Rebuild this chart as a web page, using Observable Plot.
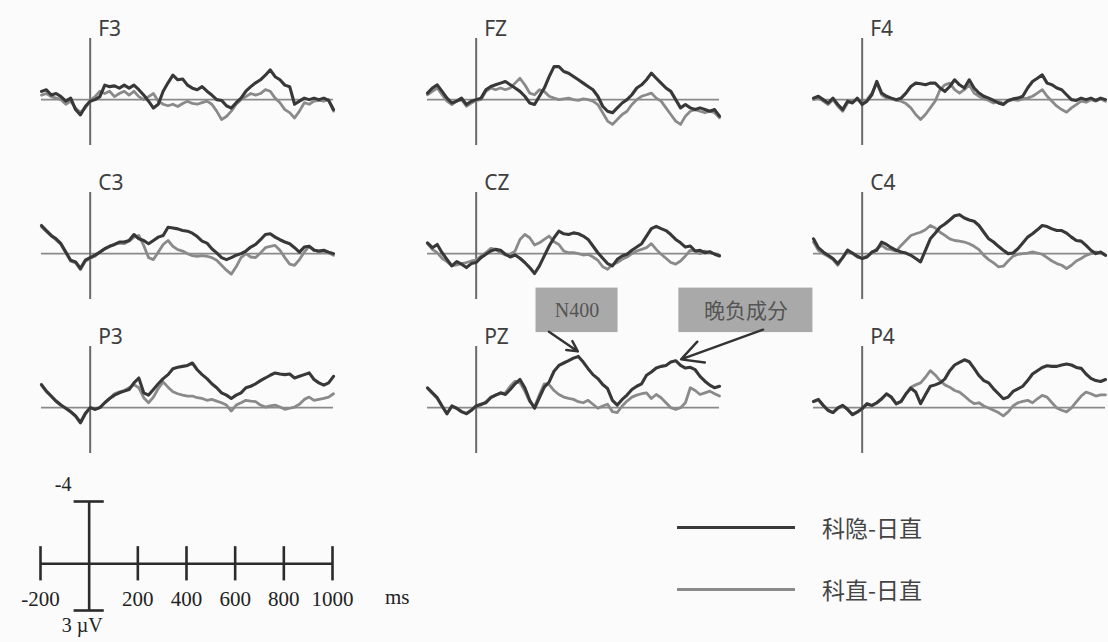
<!DOCTYPE html>
<html><head><meta charset="utf-8">
<script src="https://cdn.jsdelivr.net/npm/d3@7"></script>
<script src="https://cdn.jsdelivr.net/npm/@observablehq/plot@0.6"></script>
<style>
html,body{margin:0;padding:0;background:#fbfbfb;}
#wrap{position:relative;width:1108px;height:642px;overflow:hidden;background:#fbfbfb;}
#main{position:absolute;left:0;top:0;}
#scale{position:absolute;left:0;top:470px;}
.legline{position:absolute;left:677px;width:118px;height:3px;}
.legtxt{position:absolute;left:822px;font:23px "Noto Sans CJK SC",sans-serif;color:#444;line-height:26px;}
</style></head>
<body><div id="wrap"><div id="main"></div><div id="scale"></div>
<div class="legline" style="top:526px;background:#3a3a3a"></div>
<div class="legtxt" id="leg1" style="top:514px"></div>
<div class="legline" style="top:588px;background:#8a8a8a"></div>
<div class="legtxt" id="leg2" style="top:576px"></div>
</div>
<script>
// ---- data ----
const times = d3.range(-200, 1001, 20); // ms sample grid
const electrodes = ["F3","FZ","F4","C3","CZ","C4","P3","PZ","P4"];
const seriesNames = ["科隐-日直", "科直-日直"];

const dark_F3 = [-0.54,-0.65,-0.3,-0.4,-0.2,0.1,-0.1,0.65,1.0,0.45,0.1, 0,-0.2,-0.95,-0.85,-0.9,-0.75,-0.95,-0.75,-0.95,-0.65, -0.3,0.1,0.55,0.3,-0.55,-1.1,-1.6,-1.3,-1.35,-0.95, -0.75,-0.65,-0.85,-0.55,-0.3,0,0.05,0.4,0.55,0.2, -0.1,-0.55,-0.85,-1.1,-1.3,-1.6,-1.95,-1.5,-1.3,-0.95, -0.85,0.3,0.1,-0.1,0,-0.1,0,-0.1,0.05,0.65];
const light_F3 = [-0.3,-0.4,-0.2,-0.1,0,0.3,0.1,0.55,0.85,0.55,0.05, -0.2,-0.55,-0.4,-0.55,-0.2,-0.4,-0.55,-0.3,-0.55,-0.2, 0,-0.2,-0.4,0.1,0.3,0.4,0.3,0.45,0.25,0.1, 0.25,0.3,0.2,0.1,0.3,0.75,1.3,1.1,0.75,0.3, 0,-0.2,-0.4,-0.3,-0.4,-0.65,-0.55,-0.1,0.2,0.65, 0.85,1.2,0.75,0.2,0.3,0.1,0.05,0.1,0,0.75];

const dark_FZ = [-0.43,-0.76,-0.97,-0.54,-0.1,0.22,0.1,-0.1,0.32,0.1,0, -0.1,-0.65,-0.86,-0.97,-1.08,-1.19,-0.97,-0.76,-0.54,-0.22, 0.22,0.32,-0.22,-0.76,-1.51,-2.16,-2.16,-1.84,-1.73,-1.51, -1.3,-1.08,-0.86,-0.65,-0.22,0.43,0.76,0.86,0.54,0.22, 0,-0.32,-0.76,-0.97,-1.3,-1.73,-1.4,-1.08,-0.76,-0.54, 0,0.54,0.32,0.54,0.65,0.54,0.65,0.76,0.65,1.08];
const light_FZ = [-0.32,-0.54,-0.76,-0.32,0.1,0.32,0.1,0,0.43,0.22,0.05, 0,-0.54,-0.76,-0.65,-0.76,-0.65,-0.76,-1.08,-1.4,-0.97, -0.43,-0.32,-0.65,-0.54,-0.22,-0.1,0,-0.05,-0.1,0, 0.05,-0.05,0,0.1,0.32,0.86,1.4,1.62,1.3,0.97, 0.76,0.32,0,-0.22,-0.32,-0.43,-0.1,0.1,0.54,0.97, 1.4,1.62,1.08,0.76,0.65,0.76,0.86,0.76,0.86,1.19];

const dark_F4 = [-0.1,-0.22,0,0.22,-0.1,0.32,0.65,0.1,0.22,-0.1,0.32, 0.1,-0.32,-1.19,-0.43,-0.22,-0.1,0,-0.1,-0.43,-0.86, -1.08,-1.04,-0.97,-1.08,-1.08,-0.76,-0.54,-0.86,-1.3,-0.97, -0.76,-1.3,-0.76,-0.43,-0.22,-0.1,0.05,0.22,0.32,0.05, -0.05,-0.1,-0.22,-0.76,-1.19,-1.4,-1.62,-1.08,-0.97,-0.76, -0.65,-0.32,0,0.05,-0.1,0,-0.1,0.05,-0.1,0];
const light_F4 = [0,-0.1,0.1,0.32,0,0.43,0.76,0.22,0.1,0,0.22, 0,-0.43,-1.08,-0.32,-0.1,-0.05,0.05,0.1,0.26,0.54, 0.97,1.3,0.97,0.54,0.1,-0.65,-0.97,-1.08,-0.65,-0.43, -0.65,-0.97,-0.43,-0.22,-0.05,0.05,0.22,0.1,0.26,0.1, 0,0.05,-0.05,-0.1,-0.22,-0.43,-0.65,-0.22,0.1,0.43, 0.65,0.82,0.54,0.32,0.1,0.17,0,0.1,-0.05,0.1];

const dark_C3 = [-1.84,-1.51,-1.19,-0.97,-0.65,-0.1,0.43,0.54,0.97,0.43,0.26, 0.1,-0.1,-0.32,-0.48,-0.6,-0.76,-0.76,-0.86,-1.25,-0.97, -0.86,-0.65,-0.86,-1.08,-1.19,-1.73,-1.68,-1.62,-1.51,-1.47, -1.34,-1.12,-0.82,-0.69,-0.32,-0.05,0.26,0.39,0.26,0.1, 0,-0.17,-0.43,-0.6,-0.91,-1.25,-1.3,-1.08,-0.91,-0.76, -0.65,-0.39,-0.1,-0.43,-0.48,-0.22,-0.17,-0.22,-0.1,0];
const light_C3 = [-1.75,-1.45,-1.15,-0.9,-0.6,-0.05,0.5,0.6,1.05,0.5,0.3, 0.17,-0.1,-0.32,-0.48,-0.6,-0.69,-0.65,-0.82,-1.08,-1.19, -0.54,0.26,0.39,-0.1,-0.6,-0.86,-0.48,-0.26,-0.17,0, 0.13,0.17,0.13,0.17,0.26,0.43,0.76,1.08,1.34,0.86, 0.26,0,0.22,0.26,-0.05,-0.39,-0.48,-0.54,-0.22,0.26, 0.69,0.76,0.39,-0.1,-0.48,-0.26,-0.1,-0.17,-0.05,0.1];

const dark_CZ = [-0.71,-0.39,-0.6,-0.06,0.37,0.8,0.52,0.69,0.91,0.65,0.58, 0.26,0.04,-0.17,-0.28,-0.22,0.04,0.22,0.09,0.3,0.58, 0.91,1.3,0.8,0.15,-0.5,-1.04,-1.47,-1.3,-1.25,-1.36, -1.3,-1.15,-0.93,-0.5,-0.06,0.3,0.65,0.8,0.37,0.15, 0.04,-0.22,-0.43,-0.65,-1.15,-1.64,-1.79,-1.64,-1.51,-1.25, -0.93,-0.71,-0.43,-0.5,-0.17,-0.22,-0.06,-0.13,0.04,0.15];
const light_CZ = [-0.65,-0.28,-0.06,0.3,0.52,0.8,0.73,0.65,0.58,0.48,0.43, 0.15,-0.06,-0.35,-0.28,-0.06,0.09,0.04,-0.17,-0.93,-1.25, -1.04,-0.56,-0.71,-0.93,-1.15,-0.78,-0.6,-0.17,-0.06,-0.06, 0,0.09,0.04,0.22,0.43,0.86,1.02,0.73,0.58,0.37, 0.22,0,-0.17,-0.28,-0.39,-0.65,-0.28,0.04,0.3,0.58, 0.69,0.48,0.15,-0.22,-0.17,0,-0.17,-0.06,0,0.09];

const dark_C4 = [-0.97,-0.39,-0.11,0.11,0.32,0.65,0.26,-0.22,-0.04,0.17,0.32, 0.22,-0.11,-0.22,-0.76,-0.6,-0.39,-0.22,-0.11,-0.04,0.11, 0.32,0.54,-0.22,-0.97,-1.34,-1.73,-1.94,-2.2,-2.48,-2.55, -2.33,-2.2,-2.12,-1.84,-1.4,-0.97,-0.76,-0.48,-0.22,0, -0.04,-0.32,-0.69,-1.08,-1.3,-1.56,-1.84,-1.77,-1.62,-1.51, -1.51,-1.34,-1.08,-0.86,-0.82,-0.54,-0.22,0,-0.11,0.11];
const light_C4 = [-0.76,-0.22,0,0.17,0.39,0.76,0.26,-0.26,0,0.22,0.26, 0.17,-0.04,-0.32,-0.54,-0.32,-0.26,-0.17,-0.54,-0.86,-1.19, -1.3,-1.4,-1.56,-1.84,-1.68,-1.4,-1.19,-0.97,-0.86,-0.82, -0.76,-0.65,-0.48,-0.26,0.11,0.39,0.6,0.86,0.82,0.48, 0.17,0.04,0,-0.04,-0.11,-0.04,0.04,0.26,0.48,0.65, 0.76,0.97,0.76,0.48,0.32,0.11,0,-0.11,-0.04,0.11];

const dark_P3 = [-1.51,-1.08,-0.76,-0.43,-0.17,0.04,0.26,0.54,0.97,0.39,0, 0.11,0,-0.32,-0.6,-0.82,-0.97,-1.08,-1.19,-1.62,-1.94, -0.97,-0.82,-1.19,-1.56,-1.9,-2.16,-2.55,-2.64,-2.7,-2.76, -2.92,-2.48,-2.16,-1.9,-1.56,-1.3,-0.97,-0.82,-0.6,-0.82, -0.97,-1.3,-1.4,-1.56,-1.77,-1.94,-2.12,-2.27,-2.2,-2.16, -2.2,-1.94,-2.05,-2.16,-2.27,-1.84,-1.62,-1.47,-1.62,-2.05];
const light_P3 = [-1.45,-1.05,-0.72,-0.4,-0.15,0.06,0.3,0.58,1.02,0.43,0.02, 0.11,0,-0.32,-0.6,-0.91,-1.04,-1.12,-1.3,-1.51,-1.3, -0.65,-0.32,-0.69,-1.25,-1.68,-1.34,-1.04,-0.91,-0.82,-0.76, -0.76,-0.65,-0.6,-0.48,-0.54,-0.43,-0.32,-0.17,0.22,-0.17, -0.32,-0.48,-0.43,-0.39,-0.17,-0.04,-0.11,-0.17,-0.04,0.11, 0.04,-0.04,-0.22,-0.54,-0.69,-0.48,-0.54,-0.6,-0.69,-0.91];

const dark_PZ = [-1.3,-0.97,-0.65,-0.11,0.39,-0.11,0.04,0.26,0.39,0.17,-0.11, -0.22,-0.32,-0.65,-0.82,-0.97,-0.86,-1.19,-1.56,-1.84,-1.3, -0.48,0.04,-0.65,-1.34,-1.68,-2.38,-2.76,-2.92,-3.07,-3.24, -3.35,-2.98,-2.55,-2.16,-1.9,-1.51,-1.25,-0.48,-0.17,-0.54, -0.82,-1.19,-1.4,-1.56,-2.12,-2.33,-2.59,-2.7,-2.76,-2.98, -3.07,-2.76,-2.59,-2.64,-2.48,-2.05,-1.73,-1.47,-1.3,-1.4];
const light_PZ = [-1.25,-0.95,-0.6,-0.08,0.42,-0.08,0.06,0.28,0.4,0.18,-0.09, -0.17,-0.39,-0.69,-0.82,-0.91,-0.97,-1.4,-1.73,-1.62,-1.08, -0.39,-0.04,-0.86,-1.56,-1.51,-1.12,-0.86,-0.69,-0.6,-0.54, -0.39,-0.32,-0.48,-0.22,0.04,-0.11,-0.22,0.26,0.32,-0.11, -0.43,-0.69,-0.82,-0.91,-0.97,-0.6,-0.86,-0.65,-0.32,0, 0.11,0,-0.32,-1.3,-1.12,-0.86,-0.97,-1.08,-0.91,-0.76];

const dark_P4 = [-0.41,-0.54,-0.15,0.17,0.32,0.02,-0.15,0.11,0.45,0.28,0.06, -0.26,-0.15,-0.32,-0.58,-0.91,-0.69,-0.26,-0.41,-0.91,-1.27, -1.02,-0.26,-0.84,-1.4,-1.49,-1.62,-1.88,-2.42,-2.79,-2.96, -3.13,-3.0,-2.57,-2.1,-1.77,-1.62,-1.23,-0.91,-0.58,-0.69, -1.06,-1.23,-1.4,-1.77,-2.2,-2.42,-2.63,-2.74,-2.7,-2.7, -2.79,-2.85,-2.79,-2.63,-2.57,-2.2,-1.92,-1.77,-1.71,-1.84];
const light_P4 = [-0.38,-0.5,-0.12,0.2,0.34,0.05,-0.12,0.14,0.48,0.3,0.08, -0.22,-0.12,-0.3,-0.55,-0.88,-0.65,-0.22,-0.38,-0.88,-1.34, -1.49,-1.62,-1.99,-2.42,-2.14,-1.77,-1.49,-1.34,-1.12,-1.02, -0.76,-0.48,-0.26,-0.32,-0.11,0.02,0.17,0.32,0.54,0.28, -0.11,-0.32,-0.41,-0.48,-0.32,-0.58,-0.8,-0.69,-0.32,0.02, 0.17,0.28,0.02,-0.37,-0.76,-1.02,-0.91,-0.76,-0.84,-0.84];

const scaleTicks = [-200, 0, 200, 400, 600, 800, 1000];   // ms
const scaleTickLabels = ["-200", "", "200", "400", "600", "800", "1000"];
const annotationLabels = ["N400", "晚负成分"];

// ---- build tables ----
const darkByName = {F3: dark_F3, FZ: dark_FZ, F4: dark_F4, C3: dark_C3, CZ: dark_CZ, C4: dark_C4, P3: dark_P3, PZ: dark_PZ, P4: dark_P4};
const lightByName = {F3: light_F3, FZ: light_FZ, F4: light_F4, C3: light_C3, CZ: light_CZ, C4: light_C4, P3: light_P3, PZ: light_PZ, P4: light_P4};
const panels = electrodes.map((name, i) => ({name, col: i % 3, row: Math.floor(i / 3)}));
const darkRows = [], lightRows = [];
for (const p of panels) {
  times.forEach((t, k) => {
    darkRows.push({name: p.name, col: p.col, row: p.row, t, v: darkByName[p.name][k]});
    lightRows.push({name: p.name, col: p.col, row: p.row, t, v: lightByName[p.name][k]});
  });
}
const pz = panels.find(p => p.name === "PZ");
const boxes = [
  {label: annotationLabels[0], x1: 246, x2: 583, y1: -7.82, y2: -4.91, tx: 414, ty: -6.37, ax1: 299, ay1: -4.97, ax2: 418, ay2: -3.68},
  {label: annotationLabels[1], x1: 833, x2: 1384, y1: -7.82, y2: -4.91, tx: 1109, ty: -6.33, ax1: 1179, ay1: -5.1, ax2: 842, ay2: -3.16}
].map(d => ({...d, col: pz.col, row: pz.row}));

const main = Plot.plot({
  width: 1108, height: 470,
  marginLeft: 40, marginRight: 3, marginTop: 37, marginBottom: 15,
  style: {background: "transparent", overflow: "visible"},
  x: {domain: [-200, 1000], axis: null},
  y: {domain: [-4, 3], reverse: true, axis: null},
  fx: {domain: [0, 1, 2], axis: null, paddingInner: 0.2445, paddingOuter: 0},
  fy: {domain: [0, 1, 2], axis: null, paddingInner: 0.303, paddingOuter: 0},
  marks: [
    Plot.ruleY([0], {stroke: "#8a8a8a", strokeWidth: 1.6}),
    Plot.ruleX([0], {stroke: "#6a6a6a", strokeWidth: 2}),
    Plot.line(lightRows, {x: "t", y: "v", fx: "col", fy: "row", z: "name", stroke: "#8a8a8a", strokeWidth: 2.8, strokeLinejoin: "round"}),
    Plot.line(darkRows, {x: "t", y: "v", fx: "col", fy: "row", z: "name", stroke: "#383838", strokeWidth: 3.1, strokeLinejoin: "round"}),
    Plot.text(panels, {fx: "col", fy: "row", x: () => 0, y: () => -4, text: "name", dx: 8, dy: -3, textAnchor: "start", lineAnchor: "bottom", fontSize: 21, fontFamily: "Noto Sans, sans-serif", fill: "#3f3f3f"}),
    Plot.rect(boxes, {fx: "col", fy: "row", x1: "x1", x2: "x2", y1: "y1", y2: "y2", fill: "#a9a9a9"}),
    Plot.text(boxes.slice(0, 1), {fx: "col", fy: "row", x: "tx", y: "ty", text: "label", fontSize: 20, fontFamily: "Liberation Serif, serif", fill: "#555"}),
    Plot.text(boxes.slice(1), {fx: "col", fy: "row", x: "tx", y: "ty", text: "label", fontSize: 21, fontFamily: "Noto Sans CJK SC, sans-serif", fill: "#555"}),
    Plot.arrow(boxes, {fx: "col", fy: "row", x1: "ax1", y1: "ay1", x2: "ax2", y2: "ay2", stroke: "#333", strokeWidth: 2.4, headLength: 15, headAngle: 55})
  ]
});
document.getElementById("main").appendChild(main);

const tickData = scaleTicks.map((t, i) => ({t, label: scaleTickLabels[i]}));
const scale = Plot.plot({
  width: 450, height: 172,
  marginLeft: 40, marginRight: 118, marginTop: 31, marginBottom: 32,
  style: {background: "transparent", overflow: "visible"},
  x: {domain: [-200, 1000], axis: null},
  y: {domain: [-4, 3], reverse: true, axis: null},
  marks: [
    Plot.ruleY([0], {x1: -200, x2: 1000, stroke: "#2b2b2b", strokeWidth: 2.6}),
    Plot.ruleX(tickData.filter(d => d.t !== 0), {x: "t", y1: -1.1, y2: 1.1, stroke: "#2b2b2b", strokeWidth: 2.6}),
    Plot.ruleX([0], {y1: -4, y2: 3, stroke: "#2b2b2b", strokeWidth: 2.6}),
    Plot.ruleY([-4, 3], {x1: -62, x2: 62, stroke: "#2b2b2b", strokeWidth: 2.6}),
    Plot.text(tickData.filter(d => d.label), {x: "t", y: () => 0, text: "label", dy: 35, fontSize: 21, fontFamily: "Liberation Serif, serif", fill: "#222"}),
    Plot.text(["ms"], {x: () => 1266, y: () => 0, text: d => d, dy: 33, fontSize: 21, fontFamily: "Liberation Serif, serif", fill: "#222"}),
    Plot.text(["-4"], {x: () => -107, y: () => -4, text: d => d, dy: -17, fontSize: 20, fontFamily: "Liberation Serif, serif", fill: "#222"}),
    Plot.text(["3 µV"], {x: () => -29, y: () => 3, text: d => d, dy: 15, fontSize: 20, fontFamily: "Liberation Serif, serif", fill: "#222"})
  ]
});
document.getElementById("scale").appendChild(scale);
document.getElementById("leg1").textContent = seriesNames[0];
document.getElementById("leg2").textContent = seriesNames[1];
</script>
</body></html>
